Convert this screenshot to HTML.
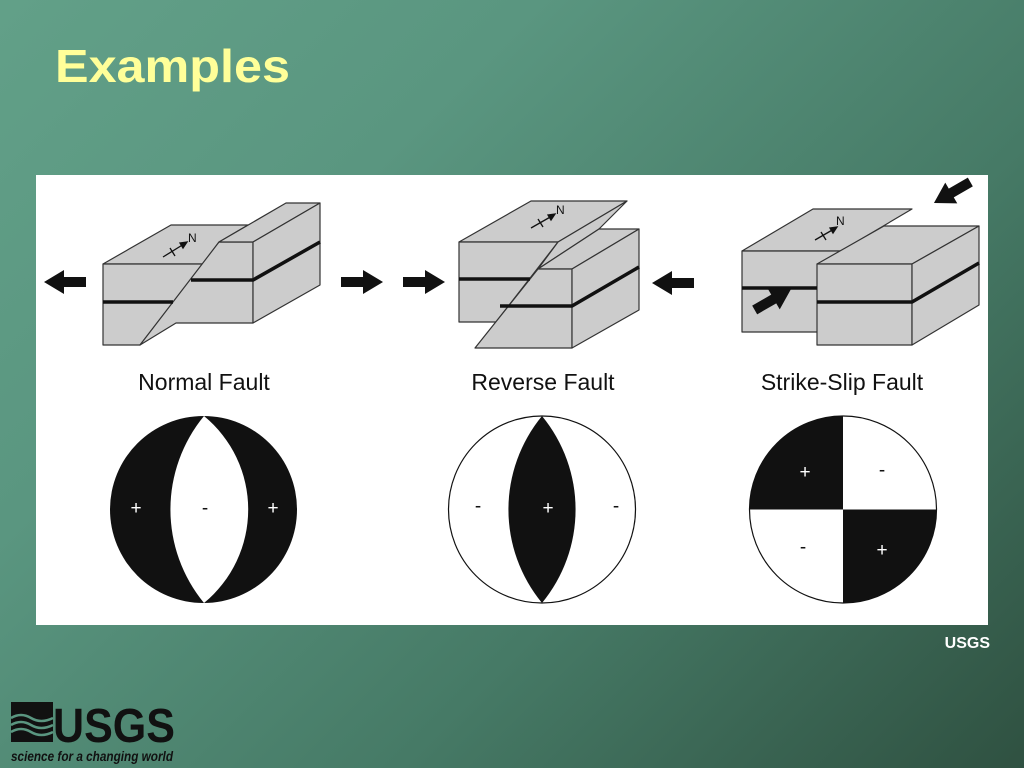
<!DOCTYPE html>
<html><head><meta charset="utf-8"><style>
html,body{margin:0;padding:0}
body{width:1024px;height:768px;overflow:hidden;background:linear-gradient(135deg,#62a088 0%,#5a9680 30%,#467a66 65%,#2f5141 100%);font-family:"Liberation Sans",sans-serif;position:relative}
</style></head><body>
<svg width="1024" height="768" style="position:absolute;left:0;top:0">
<text x="55" y="82" font-family="Liberation Sans" font-weight="bold" font-size="46" fill="#ffff99" textLength="235" lengthAdjust="spacingAndGlyphs">Examples</text>
<rect x="36" y="175" width="952" height="450" fill="#fff"/>
<g fill="#cccccc" stroke="#333" stroke-width="1.2" stroke-linejoin="round">
<polygon points="103,264 171,225 248,225 219,242 203,264"/>
<polygon points="103,264 203,264 140,345 103,345"/>
<polygon points="219,242 253,242 253,323 176,323 140,345"/>
<polygon points="219,242 286,203 320,203 253,242"/>
<polygon points="253,242 320,203 320,285 253,323"/>
<polygon points="459,242 531,201 627,201 558,242"/>
<polygon points="459,242 558,242 496,322 459,322"/>
<polygon points="558,242 627,201 599,229 538,269"/>
<polygon points="538,269 599,229 639,229 572,269"/>
<polygon points="538,269 572,269 572,348 475,348"/>
<polygon points="572,269 639,229 639,310 572,348"/>
<polygon points="742,251 813,209 912,209 841,251"/>
<polygon points="742,251 841,251 841,332 742,332"/>
<polygon points="817,264 884,226 979,226 912,264"/>
<polygon points="817,264 912,264 912,345 817,345"/>
<polygon points="912,264 979,226 979,305 912,345"/>
</g>
<g stroke="#111" stroke-width="3.5" fill="none">
<line x1="103" y1="302" x2="173" y2="302"/>
<polyline points="191,280 253,280 320,242"/>
<line x1="459" y1="279" x2="530" y2="279"/>
<polyline points="500,306 572,306 639,267"/>
<line x1="742" y1="288" x2="817" y2="288"/>
<polyline points="817,302 912,302 979,263"/>
</g>
<g fill="#111">
<polygon points="44,282 64,270 64,277 86,277 86,287 64,287 64,294"/>
<polygon points="383,282 363,270 363,277 341,277 341,287 363,287 363,294"/>
<polygon points="445,282 425,270 425,277 403,277 403,287 425,287 425,294"/>
<polygon points="652,283 672,271 672,278 694,278 694,288 672,288 672,295"/>
<g transform="translate(953,192) rotate(150)"><polygon points="-22,0 -2,-12 -2,-5 20,-5 20,5 -2,5 -2,12" transform="scale(-1,1)"/></g>
<g transform="translate(772,300) rotate(-30)"><polygon points="22,0 2,-12 2,-5 -20,-5 -20,5 2,5 2,12"/></g>
</g>
<g stroke="#111" stroke-width="1.3" fill="#111" font-family="Liberation Sans" font-size="12">
<line x1="163" y1="257" x2="184" y2="244"/><polygon points="187,242 180,243 183,248" /><line x1="170" y1="248" x2="175" y2="256"/>
<text x="188" y="242" stroke="none">N</text>
<line x1="531" y1="228" x2="552" y2="216"/><polygon points="555,214 548,215 551,220"/><line x1="538" y1="219" x2="543" y2="227"/>
<text x="556" y="214" stroke="none">N</text>
<line x1="815" y1="240" x2="834" y2="229"/><polygon points="837,227 830,228 833,233"/><line x1="821" y1="232" x2="826" y2="240"/>
<text x="836" y="225" stroke="none">N</text>
</g>
<g font-family="Liberation Sans" font-size="23" fill="#111" text-anchor="middle">
<text x="204" y="390">Normal Fault</text>
<text x="543" y="390">Reverse Fault</text>
<text x="842" y="390">Strike-Slip Fault</text>
</g>
<circle cx="203.5" cy="509.5" r="93.5" fill="#111"/>
<path d="M204,416 A147,147 0 0 0 204,603 A121,121 0 0 0 204,416Z" fill="#fff"/>
<circle cx="542" cy="509.5" r="93.5" fill="#fff" stroke="#111" stroke-width="1.2"/>
<path d="M542,416 A147,147 0 0 0 542,603 A147,147 0 0 0 542,416Z" fill="#111"/>
<circle cx="843" cy="509.5" r="93.5" fill="#fff" stroke="#111" stroke-width="1.2"/>
<path d="M843,509.5 L843,416 A93.5,93.5 0 0 0 749.5,509.5Z" fill="#111"/>
<path d="M843,509.5 L843,603 A93.5,93.5 0 0 0 936.5,509.5Z" fill="#111"/>
<g font-family="Liberation Sans" font-size="19" text-anchor="middle">
<text x="136" y="514" fill="#fff">+</text><text x="205" y="514" fill="#111">-</text><text x="273" y="514" fill="#fff">+</text>
<text x="478" y="512" fill="#111">-</text><text x="548" y="514" fill="#fff">+</text><text x="616" y="512" fill="#111">-</text>
<text x="805" y="478" fill="#fff">+</text><text x="882" y="476" fill="#111">-</text>
<text x="803" y="553" fill="#111">-</text><text x="882" y="556" fill="#fff">+</text>
</g>
<text x="990" y="648" text-anchor="end" font-family="Liberation Sans" font-weight="bold" font-size="16" fill="#fff">USGS</text>
<rect x="11" y="702" width="42" height="40" fill="#111"/>
<g stroke="#5a9680" stroke-width="2.5" fill="none">
<path d="M11,718 q10,-6 20,0 t22,0"/><path d="M11,725 q10,-6 20,0 t22,0"/><path d="M11,732 q10,-6 20,0 t22,0"/>
</g>
<text x="53" y="742" font-family="Liberation Sans" font-weight="bold" font-size="48" fill="#111" textLength="122" lengthAdjust="spacingAndGlyphs">USGS</text>
<text x="11" y="761" font-family="Liberation Sans" font-weight="bold" font-style="italic" font-size="14" fill="#111" textLength="162" lengthAdjust="spacingAndGlyphs">science for a changing world</text>
</svg>
</body></html>
